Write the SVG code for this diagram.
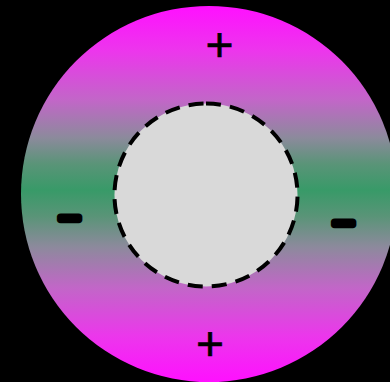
<svg xmlns="http://www.w3.org/2000/svg" width="390" height="382" viewBox="0 0 390 382">
  <defs>
    <linearGradient id="band" gradientUnits="userSpaceOnUse" x1="0" y1="6" x2="0" y2="382">
      <stop offset="0" stop-color="#ff10ff"/>
      <stop offset="0.12" stop-color="#ec36ec"/>
      <stop offset="0.25" stop-color="#c266c8"/>
      <stop offset="0.35" stop-color="#8c8a9c"/>
      <stop offset="0.42" stop-color="#5a9478"/>
      <stop offset="0.49" stop-color="#389a68"/>
      <stop offset="0.56" stop-color="#5a9478"/>
      <stop offset="0.64" stop-color="#8c8a9c"/>
      <stop offset="0.75" stop-color="#c266c8"/>
      <stop offset="0.88" stop-color="#ec36ec"/>
      <stop offset="1" stop-color="#ff10ff"/>
    </linearGradient>
  </defs>
  <style>
    .sign { font-family: "Liberation Sans", Arial, sans-serif; fill: #000; text-anchor: middle; stroke: #000; }
    .plus { font-size: 48px; stroke-width: 0.6; }
    .minus { font-size: 38px; stroke-width: 7; stroke-linejoin: round; }
    .core { fill: #d9d9d9; stroke: #000; stroke-width: 4; stroke-dasharray: 15 9.2; }
  </style>
  <rect x="0" y="0" width="390" height="382" fill="#000"/>
  <g id="outer-ring">
    <circle cx="209" cy="194" r="188" fill="url(#band)"/>
  </g>
  <g id="core">
    <path class="core" d="M206 103.5 A91.5 91.5 0 1 1 206 286.5 A91.5 91.5 0 1 1 206 103.5 Z"/>
  </g>
  <g id="plus-top"><text class="sign plus" x="219.5" y="60.5">+</text></g>
  <g id="plus-bottom"><text class="sign plus" x="210" y="359.5">+</text></g>
  <g id="minus-left"><text class="sign minus" x="69.5" y="230.5">−</text></g>
  <g id="minus-right"><text class="sign minus" x="343.5" y="235.5">−</text></g>
</svg>
